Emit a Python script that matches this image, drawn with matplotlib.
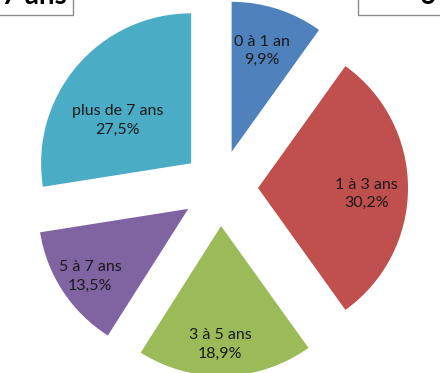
import matplotlib.pyplot as plt
from matplotlib.patches import Rectangle

# Age groups and their share (%)
categories = ['0 à 1 an', '1 à 3 ans', '3 à 5 ans', '5 à 7 ans', 'plus de 7 ans']
shares = [9.9, 30.2, 18.9, 13.5, 27.5]
colors = ['#4F81BD', '#C0504D', '#9BBB59', '#8064A2', '#4BACC6']

plt.rcParams['font.family'] = ['Lato', 'DejaVu Sans']

W, H = 440, 373
fig = plt.figure(figsize=(W / 100, H / 100), dpi=100)
ax = fig.add_axes([0, 0, 1, 1])

labels = [f"{c}\n{str(v).replace('.', ',')}%" for c, v in zip(categories, shares)]

wedges, texts = ax.pie(
    shares,
    labels=labels,
    colors=colors,
    startangle=90,
    counterclock=False,
    radius=150,
    center=(220, H - 188),
    explode=[38] * len(shares),
    labeldistance=0.75,
    wedgeprops=dict(linewidth=0),
    textprops=dict(fontsize=11.5, color='#1a1a1a', linespacing=1.4),
)
for t in texts:
    t.set_horizontalalignment('center')
    t.set_verticalalignment('center')
    x, y = t.get_position()
    t.set_position((x - 4, y - 6))
# the last label sits closer to the middle of its slice
x, y = texts[-1].get_position()
texts[-1].set_position((x + 16, y - 24))

# fragments of the boxes cut off at the top edge
ax.add_patch(Rectangle((-5, H - 15), 78, 40, facecolor='white', edgecolor='#8c8c8c', lw=1, zorder=3))
ax.text(67, H - 9, '7 ans', ha='right', va='bottom', fontsize=20, fontweight='bold', zorder=4)
ax.add_patch(Rectangle((357.5, H - 15), 90, 40, facecolor='white', edgecolor='#8c8c8c', lw=1, zorder=3))
ax.text(420, H - 9, '6', ha='left', va='bottom', fontsize=20, fontweight='bold', zorder=4)

ax.set_xlim(0, W)
ax.set_ylim(0, H)
ax.set_aspect('equal')
ax.axis('off')

fig.savefig('out.png', dpi=100, facecolor='white')
